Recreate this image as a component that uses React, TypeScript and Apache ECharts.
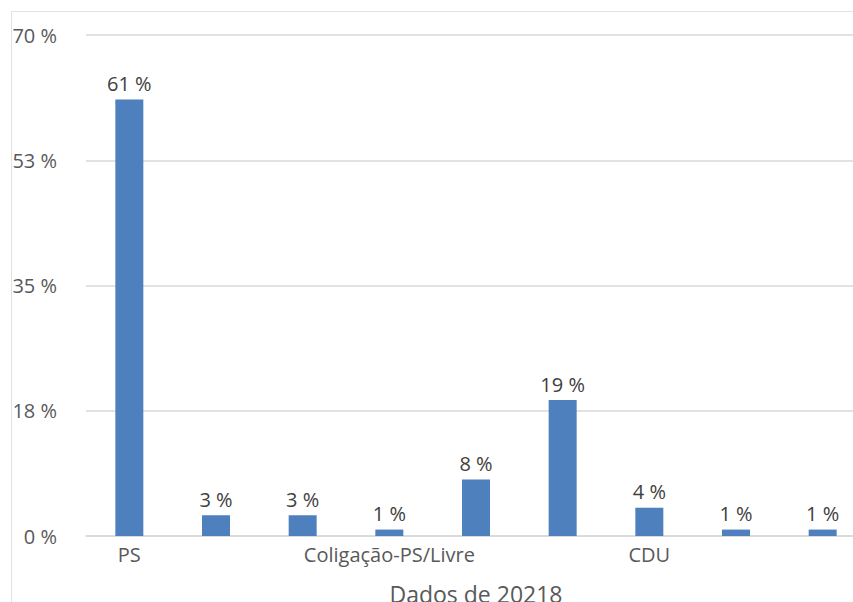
import React, { useEffect, useRef } from "react";
import * as echarts from "echarts";

const categories = ["PS", "", "", "Coligação-PS/Livre", "", "", "CDU", "", ""];
const values = [61, 2.9, 2.9, 0.9, 7.9, 19, 3.95, 0.9, 0.9];
const yTicks = [0, 17.5, 35, 52.5, 70];
const axisTitle = "Dados de 20218";

export default function App() {
  const ref = useRef<HTMLDivElement>(null);
  useEffect(() => {
    if (!ref.current) return;
    const chart = echarts.init(ref.current, undefined, { renderer: "svg" });
    const font = "'Open Sans', sans-serif";
    chart.setOption({
      animation: false,
      backgroundColor: "#ffffff",
      textStyle: { fontFamily: font },
      graphic: [
        { type: "line", shape: { x1: 11.5, y1: 11.5, x2: 880, y2: 11.5 }, style: { stroke: "#e2e2e2", lineWidth: 1 } },
        { type: "line", shape: { x1: 11.5, y1: 11.5, x2: 11.5, y2: 602 }, style: { stroke: "#e2e2e2", lineWidth: 1 } },
      ],
      grid: { left: 86, right: 14, top: 35, bottom: 66, outerBoundsMode: "none", containLabel: false },
      xAxis: {
        type: "category",
        data: categories,
        name: axisTitle,
        nameLocation: "middle",
        nameGap: 46,
        nameTextStyle: { fontSize: 23, color: "#595959", fontFamily: font },
        axisTick: { show: false },
        axisLine: { show: true, lineStyle: { color: "#d9d9d9", width: 1.5 } },
        axisLabel: { interval: 2, margin: 8, fontSize: 20, color: "#595959", fontFamily: font },
      },
      yAxis: {
        type: "value",
        min: yTicks[0],
        max: yTicks[yTicks.length - 1],
        interval: yTicks[1] - yTicks[0],
        axisLine: { show: false },
        axisTick: { show: false },
        splitLine: { lineStyle: { color: "#d9d9d9", width: 1.5 } },
        axisLabel: {
          margin: 29,
          fontSize: 20,
          color: "#595959",
          fontFamily: font,
          formatter: (v: number) => Math.round(v) + " %",
        },
      },
      series: [
        {
          type: "bar",
          data: values,
          barWidth: 28,
          itemStyle: { color: "#4e80bd" },
          label: {
            show: true,
            position: "top",
            distance: 6,
            fontSize: 20,
            color: "#404040",
            fontFamily: font,
            formatter: (p: any) => Math.round(p.value) + " %",
          },
        },
      ],
    });
    return () => chart.dispose();
  }, []);
  return (
    <div style={{ position: "fixed", left: 0, top: 0, width: 853, height: 602, overflow: "hidden", background: "#fff" }}>
      <div ref={ref} style={{ width: 880, height: 602 }} />
    </div>
  );
}
